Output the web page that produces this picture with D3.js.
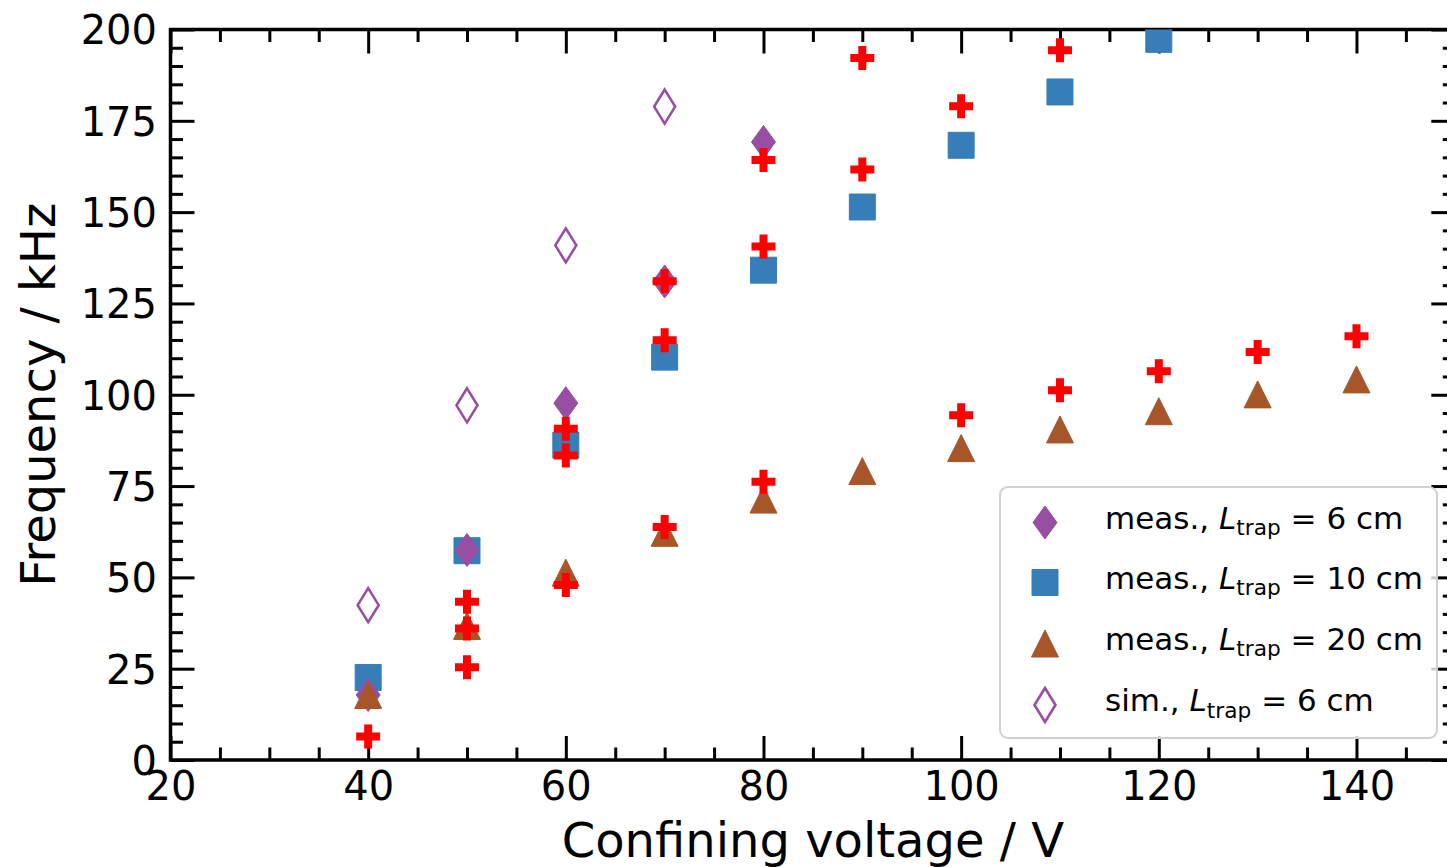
<!DOCTYPE html>
<html>
  <head>
    <meta charset="utf-8" />
    <script src="https://d3js.org/d3.v7.min.js"></script>
    <title>Frequency vs confining voltage</title>
    <style>
        body { margin: 0; background: #fff; }
        text { font-family: "DejaVu Sans", sans-serif; fill: #000; }
    </style>
  </head>
  <body>

    <svg id="chart" width="1447" height="867"></svg>

    <script>
    // measured, L_trap = 6 cm
    var voltage6 = [40, 50, 60, 70, 80];
    var freq6 = [17.8, 57.5, 97.7, 131, 169.2];

    // measured, L_trap = 10 cm
    var voltage10 = [40, 50, 60, 70, 80, 90, 100, 110, 120];
    var freq10 = [22.6, 57.3, 86.2, 110.3, 134.1, 151.4, 168.3, 182.9, 197.3];

    // measured, L_trap = 20 cm
    var voltage20 = [40, 50, 60, 70, 80, 90, 100, 110, 120, 130, 140];
    var freq20 = [17.8, 36.7, 51.3, 62.2, 71.3, 79.1, 85.4, 90.5, 95.5, 100.1, 104.2];

    // simulated, L_trap = 6 cm
    var voltageSim6 = [40, 50, 60, 70];
    var freqSim6 = [42.4, 97.1, 140.9, 178.9];

    // red crosses (no legend entry)
    var voltageCalc = [40, 50, 50, 50, 60, 60, 60, 70, 70, 70, 80, 80, 80, 90, 90, 100, 100, 110, 110, 120, 130, 140];
    var freqCalc = [6.4, 25.4, 36.0, 43.3, 47.9, 83.4, 90.7, 63.8, 114.9, 131.1, 76.2, 140.6, 164.3, 161.7, 192.2, 94.4, 179, 101.2, 194.3, 106.4, 111.7, 116];

    var xTicks = [20, 40, 60, 80, 100, 120, 140];
    var yTicks = [0, 25, 50, 75, 100, 125, 150, 175, 200];

    var legendLabels = [
        {pre: "meas., ", post: " = 6 cm"},
        {pre: "meas., ", post: " = 10 cm"},
        {pre: "meas., ", post: " = 20 cm"},
        {pre: "sim., ", post: " = 6 cm"}
    ];

    var purple = "#984ea3", blue = "#377eb8", brown = "#a65628", red = "#ff0000";

    // plot box (right spine lies just outside the picture)
    var pL = 170.5, pR = 1455.3, pT = 29.5, pB = 760;

    var x = d3.scaleLinear().domain([20, 150]).range([pL, pR]);
    var y = d3.scaleLinear().domain([0, 200]).range([pB, pT]);

    var svg = d3.select("#chart");

    svg.append("defs").append("clipPath").attr("id", "plotClip")
        .append("rect")
        .attr("x", pL).attr("y", pT)
        .attr("width", pR - pL).attr("height", pB - pT);

    function minors(lo, hi, step, majors) {
        var out = [];
        for (var v = lo; v <= hi; v += step) {
            if (majors.indexOf(v) < 0) out.push(v);
        }
        return out;
    }
    var xMinor = minors(20, 150, 5, xTicks.concat([150]));
    var yMinor = minors(0, 200, 5, yTicks);

    // axes, ticks pointing inward
    function styleAxis(g) {
        g.select(".domain").remove();
        g.selectAll(".tick line").attr("stroke", "#000").attr("stroke-width", 3);
        g.selectAll("text").style("font-family", "DejaVu Sans").style("font-size", "40px").attr("fill", "#000");
    }

    svg.append("g").attr("transform", "translate(0," + pB + ")")
        .call(d3.axisBottom(x).tickValues(xTicks).tickSize(-24).tickPadding(11.6))
        .call(styleAxis);
    svg.append("g").attr("transform", "translate(0," + pB + ")")
        .call(d3.axisBottom(x).tickValues(xMinor).tickSize(-12.5).tickFormat(""))
        .call(styleAxis);
    svg.append("g").attr("transform", "translate(0," + pT + ")")
        .call(d3.axisTop(x).tickValues(xTicks).tickSize(-24).tickFormat(""))
        .call(styleAxis);
    svg.append("g").attr("transform", "translate(0," + pT + ")")
        .call(d3.axisTop(x).tickValues(xMinor).tickSize(-12.5).tickFormat(""))
        .call(styleAxis);

    svg.append("g").attr("transform", "translate(" + pL + ",0)")
        .call(d3.axisLeft(y).tickValues(yTicks).tickSize(-24).tickPadding(13.5))
        .call(styleAxis)
        .selectAll("text").attr("dy", "0.36em");
    svg.append("g").attr("transform", "translate(" + pL + ",0)")
        .call(d3.axisLeft(y).tickValues(yMinor).tickSize(-12.5).tickFormat(""))
        .call(styleAxis);
    svg.append("g").attr("transform", "translate(" + pR + ",0)")
        .call(d3.axisRight(y).tickValues(yTicks).tickSize(-24).tickFormat(""))
        .call(styleAxis);
    svg.append("g").attr("transform", "translate(" + pR + ",0)")
        .call(d3.axisRight(y).tickValues(yMinor).tickSize(-12.5).tickFormat(""))
        .call(styleAxis);

    // frame
    svg.append("rect")
        .attr("x", pL).attr("y", pT)
        .attr("width", pR - pL).attr("height", pB - pT)
        .attr("fill", "none").attr("stroke", "#000").attr("stroke-width", 3.5);

    // marker shapes
    function diamondPath(hw, hh) {
        return "M0," + (-hh) + "L" + hw + ",0L0," + hh + "L" + (-hw) + ",0Z";
    }
    function trianglePath(h) {
        return "M0," + (-h) + "L" + h + "," + h + "L" + (-h) + "," + h + "Z";
    }
    function squarePath(h) {
        return "M" + (-h) + "," + (-h) + "H" + h + "V" + h + "H" + (-h) + "Z";
    }
    function plusPath(h) {
        var t = h / 3;
        return "M" + (-t) + "," + (-h) + "H" + t + "V" + (-t) + "H" + h + "V" + t + "H" + t +
            "V" + h + "H" + (-t) + "V" + t + "H" + (-h) + "V" + (-t) + "H" + (-t) + "Z";
    }

    var series = [
        {xs: voltage10, ys: freq10, path: squarePath(13), fill: blue, stroke: blue, sw: 1},
        {xs: voltage6, ys: freq6, path: diamondPath(12, 16.5), fill: purple, stroke: purple, sw: 1},
        {xs: voltage20, ys: freq20, path: trianglePath(13.5), fill: brown, stroke: brown, sw: 1},
        {xs: voltageSim6, ys: freqSim6, path: diamondPath(10.5, 17), fill: "none", stroke: purple, sw: 2.6},
        {xs: voltageCalc, ys: freqCalc, path: plusPath(12), fill: red, stroke: "none", sw: 0}
    ];

    var plot = svg.append("g").attr("clip-path", "url(#plotClip)");
    series.forEach(function(s) {
        plot.append("g").selectAll("path")
            .data(s.xs.map(function(v, i) { return [v, s.ys[i]]; }))
            .enter().append("path")
            .attr("d", s.path)
            .attr("transform", function(d) { return "translate(" + x(d[0]) + "," + y(d[1]) + ")"; })
            .attr("fill", s.fill)
            .attr("stroke", s.stroke)
            .attr("stroke-width", s.sw)
            .attr("stroke-linejoin", "miter");
    });

    // axis labels
    svg.append("text")
        .attr("x", (pL + pR) / 2).attr("y", 857)
        .attr("text-anchor", "middle")
        .style("font-size", "48px")
        .text("Confining voltage / V");
    svg.append("text")
        .attr("transform", "translate(55," + ((pT + pB) / 2) + ") rotate(-90)")
        .attr("text-anchor", "middle")
        .style("font-size", "48px")
        .text("Frequency / kHz");

    // legend
    var legend = svg.append("g");
    legend.append("rect")
        .attr("x", 1000).attr("y", 487)
        .attr("width", 437).attr("height", 251)
        .attr("rx", 8).attr("ry", 8)
        .attr("fill", "#fff").attr("fill-opacity", 0.8)
        .attr("stroke", "#d0d0d0").attr("stroke-width", 2);

    var legendRows = [522.5, 582.5, 643.5, 705];
    legendLabels.forEach(function(lab, i) {
        var s = [series[1], series[0], series[2], series[3]][i];
        legend.append("path")
            .attr("d", s.path)
            .attr("transform", "translate(1045," + legendRows[i] + ")")
            .attr("fill", s.fill).attr("stroke", s.stroke).attr("stroke-width", s.sw);
        var t = legend.append("text")
            .attr("x", 1105).attr("y", legendRows[i] + 6)
            .style("font-size", "31px");
        t.append("tspan").text(lab.pre);
        t.append("tspan").style("font-style", "italic").text("L");
        t.append("tspan").attr("dy", 6.5).style("font-size", "21.7px").text("trap");
        t.append("tspan").attr("dy", -6.5).text(lab.post);
    });

    </script>

  </body>
</html>
